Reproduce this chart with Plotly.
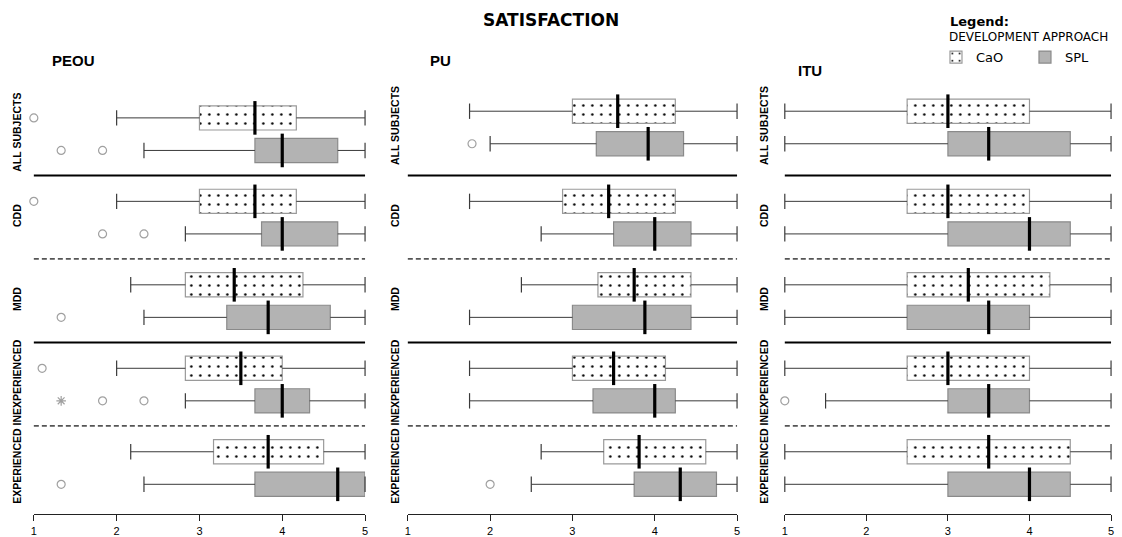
import numpy as np
import plotly.graph_objects as go

W, H = 1122, 537

groups = ["ALL SUBJECTS", "CDD", "MDD", "INEXPERIENCED", "EXPERIENCED"]
measures = ["PEOU", "PU", "ITU"]
approaches = ["CaO", "SPL"]

# ---- PEOU ----
peou_cao_low = [2.0, 2.0, 2.17, 2.0, 2.17]
peou_cao_q1 = [3.0, 3.0, 2.83, 2.83, 3.17]
peou_cao_med = [3.67, 3.67, 3.42, 3.5, 3.83]
peou_cao_q3 = [4.17, 4.17, 4.25, 4.0, 4.5]
peou_cao_high = [5.0, 5.0, 5.0, 5.0, 5.0]
peou_spl_low = [2.33, 2.83, 2.33, 2.83, 2.33]
peou_spl_q1 = [3.67, 3.75, 3.33, 3.67, 3.67]
peou_spl_med = [4.0, 4.0, 3.83, 4.0, 4.67]
peou_spl_q3 = [4.67, 4.67, 4.58, 4.33, 5.0]
peou_spl_high = [5.0, 5.0, 5.0, 5.0, 5.0]

# ---- PU ----
pu_cao_low = [1.75, 1.75, 2.38, 1.75, 2.62]
pu_cao_q1 = [3.0, 2.88, 3.31, 3.0, 3.38]
pu_cao_med = [3.55, 3.44, 3.75, 3.5, 3.81]
pu_cao_q3 = [4.25, 4.25, 4.44, 4.13, 4.62]
pu_cao_high = [5.0, 5.0, 5.0, 5.0, 5.0]
pu_spl_low = [2.0, 2.62, 1.75, 1.75, 2.5]
pu_spl_q1 = [3.29, 3.5, 3.0, 3.25, 3.75]
pu_spl_med = [3.92, 4.0, 3.88, 4.0, 4.31]
pu_spl_q3 = [4.35, 4.44, 4.44, 4.25, 4.75]
pu_spl_high = [5.0, 5.0, 5.0, 5.0, 5.0]

# ---- ITU ----
itu_cao_low = [1.0, 1.0, 1.0, 1.0, 1.0]
itu_cao_q1 = [2.5, 2.5, 2.5, 2.5, 2.5]
itu_cao_med = [3.0, 3.0, 3.25, 3.0, 3.5]
itu_cao_q3 = [4.0, 4.0, 4.25, 4.0, 4.5]
itu_cao_high = [5.0, 5.0, 5.0, 5.0, 5.0]
itu_spl_low = [1.0, 1.0, 1.0, 1.5, 1.0]
itu_spl_q1 = [3.0, 3.0, 2.5, 3.0, 3.0]
itu_spl_med = [3.5, 4.0, 3.5, 3.5, 4.0]
itu_spl_q3 = [4.5, 4.5, 4.0, 4.0, 4.5]
itu_spl_high = [5.0, 5.0, 5.0, 5.0, 5.0]

# Outliers: (group index, value); extremes drawn as asterisks
peou_cao_outliers = [(0, 1.0), (1, 1.0), (3, 1.1)]
peou_spl_outliers = [(0, 1.33), (0, 1.83), (1, 1.83), (1, 2.33), (2, 1.33),
                     (3, 1.83), (3, 2.33), (4, 1.33)]
peou_spl_extremes = [(3, 1.33)]
pu_cao_outliers = []
pu_spl_outliers = [(0, 1.78), (4, 2.0)]
itu_cao_outliers = []
itu_spl_outliers = [(3, 1.0)]

stats = {
    "PEOU": {
        "CaO": (peou_cao_low, peou_cao_q1, peou_cao_med, peou_cao_q3, peou_cao_high),
        "SPL": (peou_spl_low, peou_spl_q1, peou_spl_med, peou_spl_q3, peou_spl_high),
    },
    "PU": {
        "CaO": (pu_cao_low, pu_cao_q1, pu_cao_med, pu_cao_q3, pu_cao_high),
        "SPL": (pu_spl_low, pu_spl_q1, pu_spl_med, pu_spl_q3, pu_spl_high),
    },
    "ITU": {
        "CaO": (itu_cao_low, itu_cao_q1, itu_cao_med, itu_cao_q3, itu_cao_high),
        "SPL": (itu_spl_low, itu_spl_q1, itu_spl_med, itu_spl_q3, itu_spl_high),
    },
}
outliers = {
    "PEOU": {"CaO": peou_cao_outliers, "SPL": peou_spl_outliers},
    "PU": {"CaO": pu_cao_outliers, "SPL": pu_spl_outliers},
    "ITU": {"CaO": itu_cao_outliers, "SPL": itu_spl_outliers},
}
extremes = {"PEOU": {"SPL": peou_spl_extremes}}

# ---- layout geometry (pixels) ----
x_px = [(31, 364), (407, 738), (786, 1114)]
top_px, bot_px = 89, 521
row_offset = {"CaO": 0.31, "SPL": 0.70}
first_group_shift = [0.0, -0.08, -0.08]   # top group sits a little higher in PU / ITU
box_h = 0.29
label_standoff = [10, 6, 14]
title_pos = [(47, 57), (427, 57), (797, 67)]

style = {
    "CaO": dict(fill="white", edge="#9a9a9a",
                pattern=dict(shape=".", fgcolor="black", bgcolor="white",
                             size=9, solidity=0.06, fillmode="replace")),
    "SPL": dict(fill="#b3b3b3", edge="#8a8a8a", pattern=None),
}
whisker_color = "#3a3a3a"
outlier_color = "#a0a0a0"

fig = go.Figure()

for i, m in enumerate(measures):
    ax = "" if i == 0 else str(i + 1)
    xa, ya = "x" + ax, "y" + ax
    gpos = np.arange(len(groups), dtype=float)
    gpos[0] += first_group_shift[i]
    for a in approaches:
        lo, q1, med, q3, hi = (np.array(v, dtype=float) for v in stats[m][a])
        pos = gpos + row_offset[a]

        # whiskers
        wx, wy = [], []
        for k in range(len(groups)):
            wx += [lo[k], q1[k], None, q3[k], hi[k], None]
            wy += [pos[k], pos[k], None, pos[k], pos[k], None]
        fig.add_trace(go.Scatter(x=wx, y=wy, mode="lines", xaxis=xa, yaxis=ya,
                                 line=dict(color=whisker_color, width=1),
                                 showlegend=False, hoverinfo="skip", cliponaxis=False))
        # whisker caps
        fig.add_trace(go.Scatter(x=np.concatenate([lo, hi]), y=np.concatenate([pos, pos]),
                                 mode="markers", xaxis=xa, yaxis=ya,
                                 marker=dict(symbol="line-ns", size=11,
                                             line=dict(color=whisker_color, width=1.2)),
                                 showlegend=False, hoverinfo="skip", cliponaxis=False))
        # boxes
        st = style[a]
        mk = dict(color=st["fill"], line=dict(color=st["edge"], width=1.2))
        if st["pattern"]:
            mk["pattern"] = st["pattern"]
        fig.add_trace(go.Bar(x=q3 - q1, base=q1, y=pos, orientation="h", width=box_h,
                             xaxis=xa, yaxis=ya, marker=mk, name=a,
                             legendgroup=a, showlegend=(i == 0)))
        # medians
        fig.add_trace(go.Scatter(x=med, y=pos, mode="markers", xaxis=xa, yaxis=ya,
                                 marker=dict(symbol="line-ns", size=24,
                                             line=dict(color="black", width=3.2)),
                                 showlegend=False, hoverinfo="skip", cliponaxis=False))
        # outliers
        out = outliers[m].get(a, [])
        if out:
            fig.add_trace(go.Scatter(x=[v for _, v in out], y=[gpos[g] + row_offset[a] for g, _ in out],
                                     mode="markers", xaxis=xa, yaxis=ya,
                                     marker=dict(symbol="circle-open", size=8,
                                                 line=dict(color=outlier_color, width=1.2),
                                                 color=outlier_color),
                                     showlegend=False, hoverinfo="skip", cliponaxis=False))
        ext = extremes.get(m, {}).get(a, [])
        if ext:
            fig.add_trace(go.Scatter(x=[v for _, v in ext], y=[gpos[g] + row_offset[a] for g, _ in ext],
                                     mode="markers", xaxis=xa, yaxis=ya,
                                     marker=dict(symbol="asterisk-open", size=8,
                                                 color=outlier_color,
                                                 line=dict(color=outlier_color, width=1.2)),
                                     showlegend=False, hoverinfo="skip", cliponaxis=False))

    x0, x1 = x_px[i]
    fig.update_layout(**{
        "xaxis" + ax: dict(domain=[x0 / W, x1 / W], range=[1, 5], anchor=ya,
                           tickvals=[1, 2, 3, 4, 5], ticktext=["1", "2", "3", "4", "5"],
                           ticks="outside", ticklen=6,
                           tickcolor="#222", tickwidth=1.2,
                           showline=True, linecolor="#222", linewidth=1.2,
                           showgrid=False, zeroline=False,
                           tickfont=dict(family="Liberation Sans", size=11, color="black")),
        "yaxis" + ax: dict(domain=[1 - bot_px / H, 1 - top_px / H], anchor=xa,
                           range=[5.06, 0], tickvals=gpos + 0.5,
                           ticktext=groups, tickangle=-90, ticks="",
                           ticklabelstandoff=label_standoff[i],
                           showline=False, showgrid=False, zeroline=False,
                           tickfont=dict(family="Liberation Sans", size=10.5,
                                         color="black", weight="bold")),
    })

    # group separators
    for b in range(1, len(groups)):
        solid = b % 2 == 1
        fig.add_shape(type="line", xref=xa + " domain", yref=ya, x0=0, x1=1, y0=b, y1=b,
                      line=dict(color="black" if solid else "#555",
                                width=2 if solid else 1.8,
                                dash="solid" if solid else "5px,3px"))

    tx, ty = title_pos[i]
    fig.add_annotation(text=m, x=tx / W, y=1 - ty / H, xref="paper", yref="paper",
                       xanchor="left", yanchor="middle", showarrow=False,
                       font=dict(family="Liberation Sans", size=15, color="black", weight="bold"))

fig.add_annotation(text="SATISFACTION", x=551 / W, y=1 - 15 / H, xref="paper", yref="paper",
                   xanchor="center", yanchor="middle", showarrow=False,
                   font=dict(family="DejaVu Sans", size=17, color="black", weight="bold"))

# legend heading
fig.add_annotation(text="<b>Legend:</b>", x=950 / W, y=1 - 17 / H, xref="paper", yref="paper",
                   xanchor="left", yanchor="middle", showarrow=False,
                   font=dict(family="DejaVu Sans", size=13, color="black"))
fig.add_annotation(text="DEVELOPMENT APPROACH", x=949 / W, y=1 - 33 / H, xref="paper",
                   yref="paper", xanchor="left", yanchor="middle", showarrow=False,
                   font=dict(family="DejaVu Sans", size=12, color="black"))

fig.update_layout(
    width=W, height=H,
    margin=dict(l=0, r=0, t=0, b=0),
    paper_bgcolor="white", plot_bgcolor="white",
    barmode="overlay",
    showlegend=True,
    legend=dict(orientation="h", x=938 / W, xanchor="left", y=1 - 38 / H, yanchor="top",
                font=dict(family="DejaVu Sans", size=13, color="black"),
                bgcolor="rgba(0,0,0,0)", entrywidth=44, tracegroupgap=0),
)

fig.write_html("out.html")
